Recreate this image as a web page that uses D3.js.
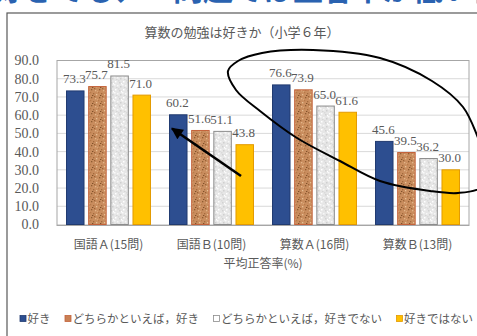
<!DOCTYPE html>
<html><head><meta charset="utf-8">
<script src="https://cdnjs.cloudflare.com/ajax/libs/d3/7.8.5/d3.min.js"></script>
<style>
html,body{margin:0;padding:0;background:#fff;overflow:hidden;}
svg{display:block;}
</style></head>
<body>
<svg id="chart" width="477" height="336"></svg>
<script>
// ---- data ----
const categories = ["国語Ａ(15問)", "国語Ｂ(10問)", "算数Ａ(16問)", "算数Ｂ(13問)"];
const seriesNames = ["好き", "どちらかといえば，好き", "どちらかといえば，好きでない", "好きではない"];
const suki        = [73.3, 60.2, 76.6, 45.6];
const dochiraSuki = [75.7, 51.6, 73.9, 39.5];
const dochiraNot  = [81.5, 51.1, 65.0, 36.2];
const sukiNot     = [71.0, 43.8, 61.6, 30.0];
const yTicks = [0, 10, 20, 30, 40, 50, 60, 70, 80, 90];
const title = "算数の勉強は好きか（小学６年）";
const xTitle = "平均正答率(%)";
const headline = "好きでも、Ｂ問題では正答率が低い傾向";

const seriesValues = [suki, dochiraSuki, dochiraNot, sukiNot];

const svg = d3.select("#chart");
const jp = "'Noto Sans CJK JP','Noto Sans',sans-serif";
const num = "'Liberation Serif','DejaVu Serif',serif";
const textCol = "#595959";

// textures
const defs = svg.append("defs");
const pb = defs.append("pattern").attr("id","cork").attr("patternUnits","userSpaceOnUse").attr("width",8).attr("height",8);
pb.append("rect").attr("width",8).attr("height",8).attr("fill","#C98D5E");
[[1,1,"#8E5B30"],[5,2,"#E3B68A"],[3,5,"#A36A3C"],[6,6,"#E8C196"],[0,4,"#B87A48"],[4,0,"#9A6236"],[7,3,"#D9A576"],[2,7,"#7F4F28"]]
  .forEach(d=>pb.append("rect").attr("x",d[0]).attr("y",d[1]).attr("width",1.3).attr("height",1.3).attr("fill",d[2]));
const pg = defs.append("pattern").attr("id","stone").attr("patternUnits","userSpaceOnUse").attr("width",8).attr("height",8);
pg.append("rect").attr("width",8).attr("height",8).attr("fill","#E6E6E6");
[[1,1,"#FFFFFF"],[5,2,"#D2D2D2"],[3,5,"#F7F7F7"],[6,6,"#CFCFCF"],[0,4,"#FAFAFA"],[4,0,"#DADADA"],[7,3,"#FFFFFF"],[2,7,"#D6D6D6"]]
  .forEach(d=>pg.append("rect").attr("x",d[0]).attr("y",d[1]).attr("width",1.5).attr("height",1.5).attr("fill",d[2]));

const fills = ["#2D4E90", "url(#cork)", "url(#stone)", "#FFC000"];
const strokes = ["#213B70", "#C4623A", "#8C8C8C", "#E39A00"];
const legendFills = ["#2D4E90", "#C98155", "#FFFFFF", "#FFC000"];

// headline (mostly cropped off the top, as in the reference)
svg.append("text").attr("x", -6).attr("y", -0.5)
  .attr("font-family", jp).attr("font-size", 30).attr("font-weight", 700)
  .attr("fill", "#2A62B0").text(headline);

// outer frame
svg.append("rect").attr("x", 7).attr("y", 13).attr("width", 500).attr("height", 360)
  .attr("fill", "#fff").attr("stroke", "#595959").attr("stroke-width", 1.2);

// title
svg.append("text").attr("x", 242).attr("y", 37).attr("text-anchor","middle")
  .attr("font-family", jp).attr("font-size", 13).attr("fill", textCol).text(title);

// scales
const plotL = 57, plotR = 469, plotT = 60.5, plotB = 224.5;
const x0 = d3.scaleBand().domain(categories).range([plotL, plotR]).paddingInner(0.175).paddingOuter(0.0875);
const x1 = d3.scaleBand().domain(d3.range(seriesNames.length)).range([0, x0.bandwidth()]).paddingInner(0.165);
const y = d3.scaleLinear().domain([0, 90]).range([plotB, plotT]);

// gridlines
svg.append("g").selectAll("line").data(yTicks).join("line")
  .attr("x1", plotL).attr("x2", plotR).attr("y1", d=>y(d)).attr("y2", d=>y(d))
  .attr("stroke", "#D9D9D9").attr("stroke-width", 1);
// plot border
svg.append("rect").attr("x", plotL).attr("y", plotT).attr("width", plotR-plotL).attr("height", plotB-plotT+1)
  .attr("fill","none").attr("stroke","#A6A6A6").attr("stroke-width",1);

// y axis labels
const yAxis = d3.axisLeft(y).tickValues(yTicks).tickFormat(d3.format(".1f")).tickSize(0).tickPadding(0);
const ya = svg.append("g").attr("transform", `translate(39,0)`).call(yAxis);
ya.select(".domain").remove();
ya.selectAll("text").attr("font-family", num).attr("font-size", 14).attr("fill", textCol);

// bars
const groups = svg.append("g").selectAll("g").data(categories).join("g")
  .attr("transform", d=>`translate(${x0(d)},0)`);
groups.each(function(cat, ci){
  const g = d3.select(this);
  const vals = seriesValues.map((s,si)=>({si, v:s[ci]}));
  g.selectAll("rect").data(vals).join("rect")
    .attr("x", d=>x1(d.si)+0.5).attr("y", d=>y(d.v))
    .attr("width", x1.bandwidth()-1).attr("height", d=>plotB - y(d.v))
    .attr("fill", d=>fills[d.si]).attr("stroke", d=>strokes[d.si]).attr("stroke-width", 1);
  g.selectAll("text").data(vals).join("text")
    .attr("x", d=>x1(d.si)+x1.bandwidth()/2 - 1).attr("y", d=>y(d.v)-7.5)
    .attr("text-anchor","middle").attr("font-family", num).attr("font-size", 13)
    .attr("fill", textCol).text(d=>d3.format(".1f")(d.v));
});

// x axis labels
const xAxis = d3.axisBottom(x0).tickSize(0).tickPadding(0);
const xa = svg.append("g").attr("transform", `translate(0,${plotB+21})`).call(xAxis);
xa.select(".domain").remove();
xa.selectAll("text").attr("font-family", jp).attr("font-size", 12).attr("fill", textCol).attr("dy","0.3em");

// x title
svg.append("text").attr("x", (plotL+plotR)/2).attr("y", 267.5).attr("text-anchor","middle")
  .attr("font-family", jp).attr("font-size", 12).attr("fill", textCol).text(xTitle);

// legend
const leg = svg.append("g");
const items = seriesNames.map((n,i)=>{
  const t = leg.append("text").attr("y", 323).attr("font-family", jp).attr("font-size", 11.5)
    .attr("fill", textCol).text(n);
  return {i, t, w: t.node().getComputedTextLength()};
});
const legStart = 20, legEnd = 473, sq = 6, sqGap = 1.5;
const totalW = d3.sum(items, d=>sq+sqGap+d.w);
const gap = (legEnd - legStart - totalW)/(items.length-1);
let cx = legStart;
items.forEach(d=>{
  leg.append("rect").attr("x", cx).attr("y", 315.5).attr("width", sq).attr("height", sq)
    .attr("fill", legendFills[d.i]).attr("stroke", strokes[d.i]).attr("stroke-width", 0.8);
  d.t.attr("x", cx+sq+sqGap);
  cx += sq+sqGap+d.w+gap;
});

// annotations: hand-drawn ellipse (closes just beyond the right edge) and arrow
const ellipsePts = [[228,71],[238,61],[262,53],[313,50],[380,58],[432,81],[463,107],[479,140],[490,167],[482,187],[458,193],[430,191],[380,181],[340,161],[297,138],[260,111],[236,90]];
svg.append("path").attr("d", d3.line().curve(d3.curveCatmullRomClosed.alpha(0.5))(ellipsePts))
  .attr("fill","none").attr("stroke","#000").attr("stroke-width",2);
defs.append("marker").attr("id","ah").attr("viewBox","0 0 10 10").attr("refX",9).attr("refY",5)
  .attr("markerWidth",5).attr("markerHeight",4.5).attr("orient","auto").attr("markerUnits","strokeWidth")
  .append("path").attr("d","M0,0L10,5L0,10z").attr("fill","#000");
svg.append("line").attr("x1",241).attr("y1",176).attr("x2",172).attr("y2",128.5)
  .attr("stroke","#000").attr("stroke-width",2.6).attr("marker-end","url(#ah)");
</script>
</body></html>
